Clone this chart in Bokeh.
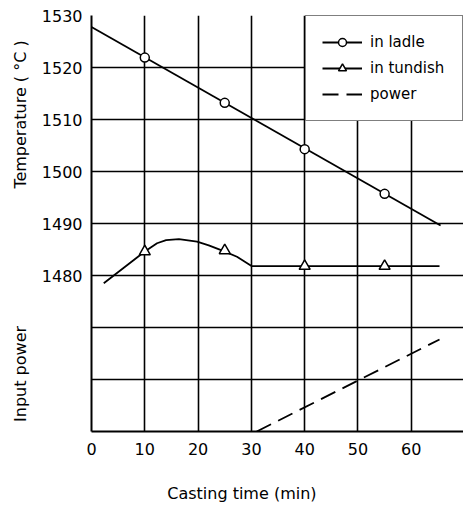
import numpy as np
from bokeh.plotting import figure
from bokeh.models import Range1d, FixedTicker, Legend, LegendItem
from bokeh.embed import file_html
from bokeh.resources import INLINE

# --- data ---
ladle_line_time = [0, 65.5]
ladle_line_temp = [1527.8, 1489.6]
ladle_time = [10, 25, 40, 55]
ladle_temp = [1521.9, 1513.2, 1504.3, 1495.7]

tundish_line_time = [2.3, 10, 12.3, 14, 16.4, 19.8, 22, 24.8, 27.3, 30.1, 40, 55, 65.3]
tundish_line_temp = [1478.5, 1484.6, 1486.2, 1486.8, 1487.0, 1486.5, 1485.8, 1484.7, 1483.6, 1481.8, 1481.8, 1481.8, 1481.8]
tundish_time = [10, 25, 40, 55]
tundish_temp = [1484.6, 1484.8, 1481.8, 1481.8]

power_time = [31, 65.3]
power_level = [1450, 1467.7]

x_ticks = [0, 10, 20, 30, 40, 50, 60]
y_label_ticks = [1480, 1490, 1500, 1510, 1520, 1530]
y_grid_ticks = [1460, 1470, 1480, 1490, 1500, 1510, 1520, 1530]

FONT = "DejaVu Sans"
NB = "\u00a0"

p = figure(width=463, height=506, output_backend="svg", toolbar_location=None,
           x_range=Range1d(0, 69.8), y_range=Range1d(1450, 1530),
           min_border_left=91, min_border_right=0, min_border_top=15,
           min_border_bottom=75)
p.outline_line_color = None
p.background_fill_color = "white"

# axes
for ax in (p.xaxis[0], p.yaxis[0]):
    ax.axis_line_color = "black"
    ax.axis_line_width = 2
    ax.major_tick_line_color = None
    ax.minor_tick_line_color = None
    ax.major_label_text_font = FONT
    ax.major_label_text_font_size = "16px"
    ax.major_label_text_color = "black"
    ax.axis_label_text_font = FONT
    ax.axis_label_text_font_size = "16px"
    ax.axis_label_text_font_style = "normal"
    ax.axis_label_text_color = "black"
p.xaxis.ticker = FixedTicker(ticks=x_ticks)
p.yaxis.ticker = FixedTicker(ticks=y_label_ticks)
p.xaxis.major_label_standoff = 5
p.yaxis.major_label_standoff = 3

# axis titles (non-breaking spaces keep the two left titles apart)
p.xaxis.axis_label = "Casting time (min)" + NB * 14
p.xaxis.axis_label_standoff = 26
p.yaxis.axis_label = "Input power" + NB * 27 + "Temperature ( °C )" + NB * 3
p.yaxis.axis_label_standoff = 9

p.xgrid.ticker = FixedTicker(ticks=x_ticks[1:])
p.ygrid.ticker = FixedTicker(ticks=y_grid_ticks)
for g in (p.xgrid[0], p.ygrid[0]):
    g.grid_line_color = "black"
    g.grid_line_width = 1.6
    g.grid_line_alpha = 1

# data
l1 = p.line(ladle_line_time, ladle_line_temp, line_color="black", line_width=1.8)
s1 = p.scatter(ladle_time, ladle_temp, marker="circle", size=9,
               line_color="black", line_width=1.5, fill_color="white")
l2 = p.line(tundish_line_time, tundish_line_temp, line_color="black", line_width=1.8)
s2 = p.scatter(tundish_time, tundish_temp, marker="triangle", size=11,
               line_color="black", line_width=1.5, fill_color="white")
l3 = p.line(power_time, power_level, line_color="black", line_width=1.8,
            line_dash="16 8")

legend = Legend(items=[
    LegendItem(label="in ladle", renderers=[l1, s1]),
    LegendItem(label="in tundish", renderers=[l2, s2]),
    LegendItem(label="power", renderers=[l3]),
], location="top_right")
legend.margin = 0
legend.padding = 16
legend.spacing = 6
legend.glyph_width = 40
legend.glyph_height = 20
legend.label_height = 20
legend.label_width = 76
legend.label_standoff = 8
legend.label_text_font = FONT
legend.label_text_font_size = "15px"
legend.label_text_color = "black"
legend.border_line_color = "black"
legend.border_line_width = 1.6
legend.background_fill_color = "white"
legend.background_fill_alpha = 1
p.add_layout(legend, "center")

open("out.html", "w").write(file_html(p, INLINE))
